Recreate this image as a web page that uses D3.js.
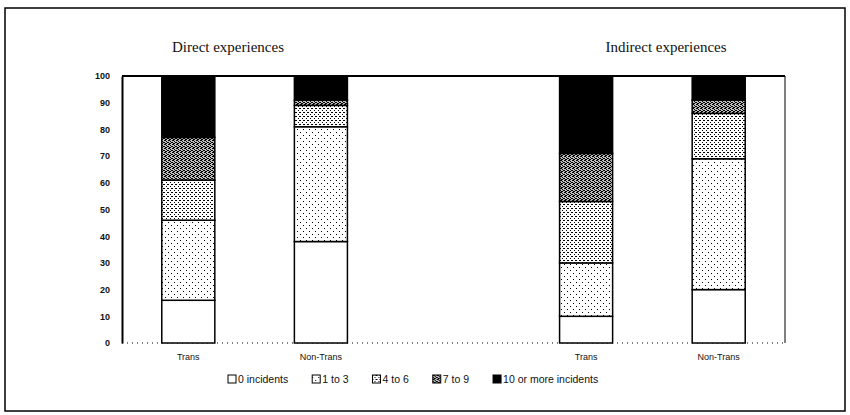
<!DOCTYPE html>
<html>
<head>
<meta charset="utf-8">
<script src="https://cdn.jsdelivr.net/npm/d3@7"></script>
<style>
  body { margin: 0; background: #fff; }
  text { fill: #111; }
</style>
</head>
<body>
<svg width="850" height="415"></svg>
<script>
// values (percent of respondents)
const groups = ["Direct experiences", "Indirect experiences"];
const categories = ["Trans", "Non-Trans"];
const seriesNames = ["0 incidents", "1 to 3", "4 to 6", "7 to 9", "10 or more incidents"];
const directTrans = [16, 30, 15, 16, 23];
const directNonTrans = [38, 43, 8, 2, 9];
const indirectTrans = [10, 20, 23, 18, 29];
const indirectNonTrans = [20, 49, 17, 5, 9];
const yTicks = [0, 10, 20, 30, 40, 50, 60, 70, 80, 90, 100];

const svg = d3.select("svg");

// build rows, with an empty slot between the two groups
const rows = [
  { key: "d-trans", label: categories[0], values: directTrans },
  { key: "d-non", label: categories[1], values: directNonTrans },
  { key: "gap", label: "", values: null },
  { key: "i-trans", label: categories[0], values: indirectTrans },
  { key: "i-non", label: categories[1], values: indirectNonTrans }
];
const table = rows.filter(r => r.values).map(r => {
  const o = { key: r.key };
  seriesNames.forEach((s, i) => o[s] = r.values[i]);
  return o;
});

const x = d3.scaleBand()
  .domain(rows.map(r => r.key))
  .range([122, 785])
  .paddingInner(0.6)
  .paddingOuter(0.3);

const y = d3.scaleLinear().domain([0, 100]).range([343, 76]);

// fill patterns, roughly like the halftone of the print
const defs = svg.append("defs");
function dotPattern(id, size, dots, bg) {
  const p = defs.append("pattern")
    .attr("id", id)
    .attr("patternUnits", "userSpaceOnUse")
    .attr("width", size).attr("height", size);
  p.append("rect").attr("width", size).attr("height", size).attr("fill", bg);
  dots.forEach(d => {
    p.append("rect").attr("x", d[0]).attr("y", d[1])
      .attr("width", 1).attr("height", 1).attr("fill", "#000");
  });
}
dotPattern("p13", 6, [[0, 0], [3, 3]], "#fff");
dotPattern("p46", 4, [[0, 0], [2, 2], [3, 0]], "#fff");
dotPattern("p79", 4, [[0, 0], [1, 0], [2, 1], [3, 2], [0, 2], [1, 3], [2, 3]], "#bdbdbd");

const fills = ["#fff", "url(#p13)", "url(#p46)", "url(#p79)", "#000"];
const color = d3.scaleOrdinal().domain(seriesNames).range(fills);

// outer frame
svg.append("rect")
  .attr("x", 5).attr("y", 8)
  .attr("width", 840).attr("height", 403)
  .attr("fill", "none")
  .attr("stroke", "#000")
  .attr("stroke-width", 1.5);

// dotted baseline
svg.append("line")
  .attr("x1", 122).attr("x2", 785)
  .attr("y1", y(0)).attr("y2", y(0))
  .attr("stroke", "#000")
  .attr("stroke-dasharray", "1,4");

// top and right frame of the plot
svg.append("line")
  .attr("x1", 122).attr("x2", 785)
  .attr("y1", y(100)).attr("y2", y(100))
  .attr("stroke", "#000").attr("stroke-width", 2);
svg.append("line")
  .attr("x1", 785).attr("x2", 785)
  .attr("y1", y(100)).attr("y2", y(0))
  .attr("stroke", "#000").attr("stroke-width", 1);

const stacked = d3.stack().keys(seriesNames)(table);

svg.append("g").selectAll("g")
  .data(stacked)
  .join("g")
  .attr("fill", d => color(d.key))
  .selectAll("rect")
  .data(d => d)
  .join("rect")
  .attr("x", d => x(d.data.key))
  .attr("width", x.bandwidth())
  .attr("y", d => y(d[1]))
  .attr("height", d => y(d[0]) - y(d[1]))
  .attr("stroke", "#000")
  .attr("stroke-width", 1.5);

// y axis
const yAxis = svg.append("g")
  .attr("transform", "translate(122,0)")
  .call(d3.axisLeft(y).tickValues(yTicks).tickSize(0).tickPadding(12));
yAxis.select(".domain").attr("stroke", "#000").attr("stroke-width", 2);
yAxis.selectAll("text")
  .attr("font-family", "Liberation Sans, Arial, sans-serif")
  .attr("font-size", 9)
  .attr("font-weight", "bold")
  .attr("fill", "#111");

// category labels
svg.append("g").selectAll("text")
  .data(rows.filter(r => r.values))
  .join("text")
  .attr("x", d => x(d.key) + x.bandwidth() / 2)
  .attr("y", 360)
  .attr("text-anchor", "middle")
  .attr("font-family", "Liberation Sans, Arial, sans-serif")
  .attr("font-size", 9)
  .text(d => d.label);

// group titles
svg.append("g").selectAll("text")
  .data(groups)
  .join("text")
  .attr("x", (d, i) => i === 0 ? 228 : 666)
  .attr("y", 52)
  .attr("text-anchor", "middle")
  .attr("font-family", "Liberation Serif, Times New Roman, serif")
  .attr("font-size", 15)
  .text(d => d);

// legend
const legend = svg.append("g").attr("transform", "translate(228,383)");
let lx = 0;
seriesNames.forEach(s => {
  const item = legend.append("g").attr("transform", `translate(${lx},0)`);
  item.append("rect")
    .attr("x", 0).attr("y", -8)
    .attr("width", 8).attr("height", 8)
    .attr("fill", color(s))
    .attr("stroke", "#000")
    .attr("stroke-width", 1);
  const t = item.append("text")
    .attr("x", 10).attr("y", 0)
    .attr("font-family", "Liberation Sans, Arial, sans-serif")
    .attr("font-size", 10.5)
    .text(s);
  lx += 10 + t.node().getComputedTextLength() + 24;
});
</script>
</body>
</html>
